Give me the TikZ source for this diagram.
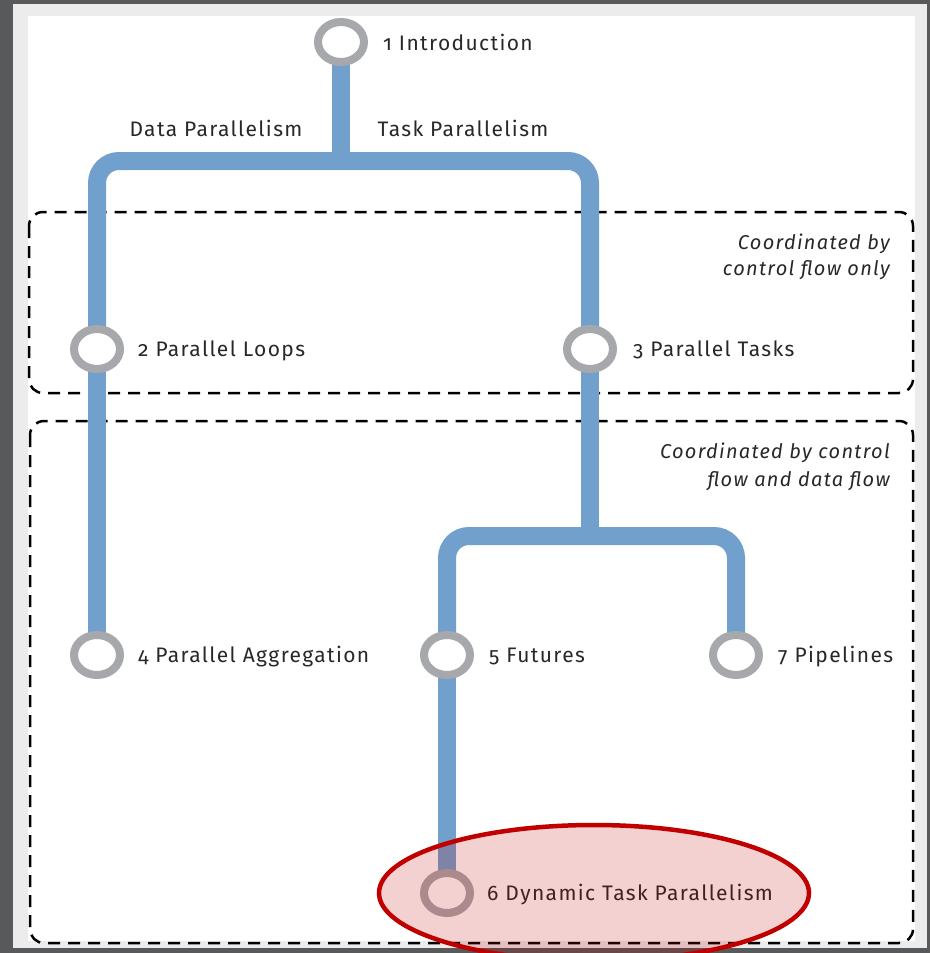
\documentclass[tikz,border=0pt]{standalone}
\usepackage{fontspec}
\setmainfont{Fira Sans}[Numbers=OldStyle, LetterSpace=6.5]
\usetikzlibrary{shapes.geometric}

\definecolor{frame}{RGB}{88,89,91}
\definecolor{bevel}{RGB}{236,236,236}
\definecolor{trackblue}{RGB}{114,160,205}
\definecolor{ringgray}{RGB}{167,168,172}
\definecolor{ink}{RGB}{40,40,40}
\definecolor{hlred}{RGB}{192,0,0}

\tikzset{
  track/.style={line width=18pt, draw=trackblue, rounded corners=22pt},
  stop/.style={ellipse, draw=ringgray, fill=white, line width=8pt,
               minimum width=46pt, minimum height=40pt, inner sep=0pt},
  lbl/.style={anchor=base west, text=ink, font=\fontsize{21}{25}\selectfont, inner sep=0pt},
  branch/.style={anchor=base, text=ink, font=\fontsize{21}{25}\selectfont, inner sep=0pt},
  note/.style={anchor=base east, text=ink, font=\itshape\fontsize{20}{24}\selectfont, inner sep=0pt},
  group/.style={draw=black, line width=2.5pt, dash pattern=on 12pt off 8pt, rounded corners=14pt},
}

\begin{document}
\begin{tikzpicture}[x=1pt,y=-1pt]
  \useasboundingbox (0,0) rectangle (930,953);
  \clip (0,0) rectangle (930,953);

  % window frame
  \fill[frame] (0,0) rectangle (930,953);
  \fill[bevel] (13,4) rectangle (927,948);
  \fill[white] (28,16) rectangle (915,941);

  % grouping boxes
  \draw[group] (29,212) rectangle (913,393);
  \draw[group] (30,421) rectangle (913,943);
  \node[note] (g1a) at (890,249) {Coordinated by};
  \node[note] (g1b) at (890,275) {control flow only};
  \node[note] (g2a) at (890,458) {Coordinated by control};
  \node[note] (g2b) at (890,486) {flow and data flow};

  % stations
  \coordinate (s1) at (341,42);
  \coordinate (s2) at (97,349);
  \coordinate (s3) at (590,349);
  \coordinate (s4) at (97,655);
  \coordinate (s5) at (447,655);
  \coordinate (s7) at (736,655);
  \coordinate (s6) at (447,893);
  \coordinate (fork1) at (341,161);
  \coordinate (fork2) at (590,536);

  % tracks
  \draw[track] (s1) -- (fork1);
  \draw[track] (s2) |- (fork1) -| (s3);
  \draw[track] (s2) -- (s4);
  \draw[track] (s3) -- (fork2);
  \draw[track] (s5) |- (fork2) -| (s7);
  \draw[track] (s5) -- (s6);

  % station rings
  \foreach \s in {1,2,3,4,5,6,7} \node[stop] (n\s) at (s\s) {};

  % labels
  \node[lbl] (t1) at ([xshift=42pt,yshift=-8pt]n1.center) {1 Introduction};
  \node[lbl] (t2) at ([xshift=41pt,yshift=-7pt]n2.center) {2 Parallel Loops};
  \node[lbl] (t3) at ([xshift=43pt,yshift=-7pt]n3.center) {3 Parallel Tasks};
  \node[lbl] (t4) at ([xshift=41pt,yshift=-7pt]n4.center) {4 Parallel Aggregation};
  \node[lbl] (t5) at ([xshift=42pt,yshift=-7pt]n5.center) {5 Futures};
  \node[lbl] (t7) at ([xshift=42pt,yshift=-7pt]n7.center) {7 Pipelines};
  \node[lbl] (t6) at ([xshift=40pt,yshift=-7pt]n6.center) {6 Dynamic Task Parallelism};
  \node[branch] (bd) at (216,136) {Data Parallelism};
  \node[branch] (bt) at (463,136) {Task Parallelism};

  % highlight
  \node[ellipse, draw=hlred, line width=4.5pt, fill=hlred, fill opacity=0.18,
        draw opacity=1, minimum width=430pt, minimum height=136pt] (hl) at (594,893) {};
\end{tikzpicture}
\end{document}
